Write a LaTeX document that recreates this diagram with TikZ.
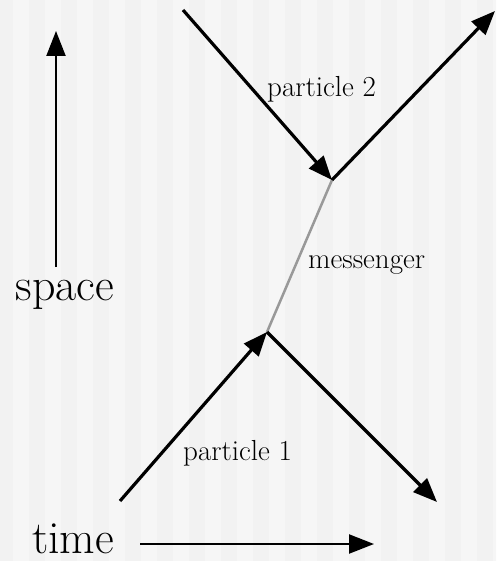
\documentclass[tikz,border=0pt]{standalone}
\usepackage{tikz}
\usetikzlibrary{arrows.meta}

\definecolor{stripedark}{HTML}{F2F2F2}
\definecolor{stripelight}{HTML}{F6F6F6}
\definecolor{messgray}{HTML}{999999}

\tikzset{
    worldline/.style={line width=3.2pt, -{Triangle[length=24pt,width=19pt]}},
    axisline/.style={line width=2.2pt, -{Triangle[length=25pt,width=19pt]}},
    bigtext/.style={inner sep=0pt, font=\fontsize{46}{52}\selectfont},
    smalltext/.style={inner sep=0pt, font=\fontsize{29}{34}\selectfont}
}

\begin{document}
\begin{tikzpicture}[x=1pt,y=-1pt]
\useasboundingbox (0,0) rectangle (496,561);

% Background stripes
\begin{scope}
    \clip (0,0) rectangle (496,561);
    \fill[stripedark] (0,0) rectangle (496,561);
    \foreach \sx in {13,45,...,493}
        \fill[stripelight] (\sx,0) rectangle ++(16,561);
\end{scope}

% Vertices and ends
\coordinate (v2) at (332,180);
\coordinate (v1) at (267,332);
\coordinate (p2in) at (183,10);
\coordinate (p2out) at (495,11);
\coordinate (p1in) at (120,501);
\coordinate (p1out) at (437,502);

% Axes
\coordinate (spacefoot) at (56,267);
\coordinate (spacetip) at (56,31);
\coordinate (timefoot) at (140,544);
\coordinate (timetip) at (374,544);
\draw[axisline] (spacefoot) -- (spacetip);
\draw[axisline] (timefoot) -- (timetip);
\node[bigtext, anchor=base] (spacelbl) at (65,300) {space};
\node[bigtext, anchor=base] (timelbl) at (73,553) {time};

% Messenger
\draw[messgray, line width=2.5pt] (v1) -- (v2);
\node[smalltext, anchor=base west] (messlbl) at (308,268) {messenger};

% Particles
\draw[worldline] (p2in) -- (v2);
\draw[worldline] (v2) -- (p2out);
\draw[worldline] (p1in) -- (v1);
\draw[worldline] (v1) -- (p1out);
\node[smalltext, anchor=base west] (p2lbl) at (267,97) {particle 2};
\node[smalltext, anchor=base west] (p1lbl) at (183,460) {particle 1};

\end{tikzpicture}
\end{document}
